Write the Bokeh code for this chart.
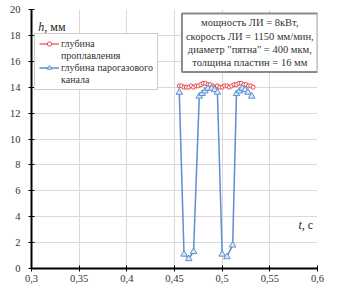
from bokeh.plotting import figure
from bokeh.models import (FixedTicker, CustomJSTickFormatter, Legend, LegendItem, Label)
from bokeh.embed import file_html
from bokeh.resources import INLINE

# Data
red_t = [0.455 + 0.0025 * i for i in range(32)]
red_h = [14.1, 14.1, 14.0, 14.0, 14.0, 14.1, 14.0, 14.1, 14.1, 14.2, 14.3, 14.3,
         14.2, 14.2, 14.1, 14.0, 14.1, 14.0, 14.0, 14.1, 14.1, 14.0, 14.1, 14.2,
         14.2, 14.3, 14.3, 14.2, 14.2, 14.1, 14.1, 14.0]
blue_t = [0.455, 0.460, 0.465, 0.470, 0.476, 0.479, 0.482, 0.485, 0.489, 0.492,
          0.495, 0.500, 0.505, 0.511, 0.515, 0.518, 0.521, 0.524, 0.527, 0.531]
blue_h = [13.6, 1.1, 0.75, 1.3, 13.3, 13.5, 13.7, 13.9, 13.9, 13.8,
          13.6, 1.1, 0.9, 1.8, 13.5, 13.7, 13.9, 13.8, 13.6, 13.3]
x_ticks = [0.3, 0.35, 0.4, 0.45, 0.5, 0.55, 0.6]
y_ticks = [0, 2, 4, 6, 8, 10, 12, 14, 16, 18, 20]
legend_labels = ["глубина", "проплавления", "глубина парогазового", "канала"]
info_text = ("мощность ЛИ = 8кВт,\nскорость ЛИ = 1150 мм/мин,\n"
             "диаметр \"пятна\" = 400 мкм,\nтолщина пластин = 16 мм")

FONT = "Liberation Serif"
RED = "#e8474f"
BLUE = "#5b8fd1"

p = figure(width=325, height=286, x_range=(0.3, 0.6), y_range=(0, 20),
           output_backend="svg", toolbar_location=None,
           min_border_left=31, min_border_right=8, min_border_top=9, min_border_bottom=18)
p.outline_line_color = None
p.background_fill_color = "white"

for ax in (p.xaxis[0], p.yaxis[0]):
    ax.axis_line_color = "black"
    ax.axis_line_width = 2
    ax.major_tick_line_color = "black"
    ax.major_tick_line_width = 1
    ax.major_tick_in = 3
    ax.major_tick_out = 3
    ax.minor_tick_line_color = None
    ax.major_label_text_font = FONT
    ax.major_label_text_font_size = "10.5px"
    ax.major_label_text_color = "#333333"

p.xaxis.ticker = FixedTicker(ticks=x_ticks)
p.yaxis.ticker = FixedTicker(ticks=y_ticks)
p.xaxis.formatter = CustomJSTickFormatter(
    code="return tick.toFixed(2).replace(/0$/,'').replace('.',',');")
p.yaxis.formatter = CustomJSTickFormatter(code="return tick.toFixed(0);")
p.xaxis.major_label_standoff = 3
p.yaxis.major_label_standoff = 8

p.xgrid.ticker = FixedTicker(ticks=x_ticks)
p.ygrid.ticker = FixedTicker(ticks=y_ticks)
p.grid.grid_line_color = "#d9d9d9"
p.grid.grid_line_width = 1

rl = p.line(red_t, red_h, line_color=RED, line_width=1.2)
rs = p.scatter(red_t, red_h, marker="circle", size=4, line_color=RED,
               fill_color="white", line_width=1)
bl = p.line(blue_t, blue_h, line_color=BLUE, line_width=1.5)
bs = p.scatter(blue_t, blue_h, marker="triangle", size=6.5, line_color=BLUE,
               fill_color="#dfe9f7", line_width=1)
dummy = p.line(x=[], y=[], line_alpha=0)

items = [
    LegendItem(label=legend_labels[0], renderers=[rl, rs]),
    LegendItem(label=legend_labels[1], renderers=[dummy]),
    LegendItem(label=legend_labels[2], renderers=[bl, bs]),
    LegendItem(label=legend_labels[3], renderers=[dummy]),
]
legend = Legend(items=items, location=(3, 178))
legend.label_text_font = FONT
legend.label_text_font_size = "10px"
legend.label_text_color = "#333333"
legend.label_height = 11
legend.glyph_height = 11
legend.glyph_width = 20
legend.label_standoff = 2
legend.spacing = 1
legend.padding = 4
legend.border_line_color = "#9a9a9a"
legend.border_line_width = 1.5
legend.background_fill_alpha = 1
p.add_layout(legend)

info = Label(x=0.529, y=19.7, text=info_text, text_align="center", text_baseline="top",
             text_font=FONT, text_font_size="10.5px", text_color="#333333",
             border_line_color="#8a8a8a", border_line_width=2,
             background_fill_color="white", padding=4)
p.add_layout(info)

p.add_layout(Label(x=0.307, y=18.1, text="h", text_font=FONT, text_font_style="italic",
                   text_font_size="12px", text_color="#222222"))
p.add_layout(Label(x=0.3135, y=18.1, text=", мм", text_font=FONT,
                   text_font_size="12px", text_color="#222222"))
p.add_layout(Label(x=0.580, y=2.8, text="t", text_font=FONT, text_font_style="italic",
                   text_font_size="12px", text_color="#222222"))
p.add_layout(Label(x=0.5835, y=2.8, text=", с", text_font=FONT,
                   text_font_size="12px", text_color="#222222"))

open("out.html", "w").write(file_html(p, INLINE))
